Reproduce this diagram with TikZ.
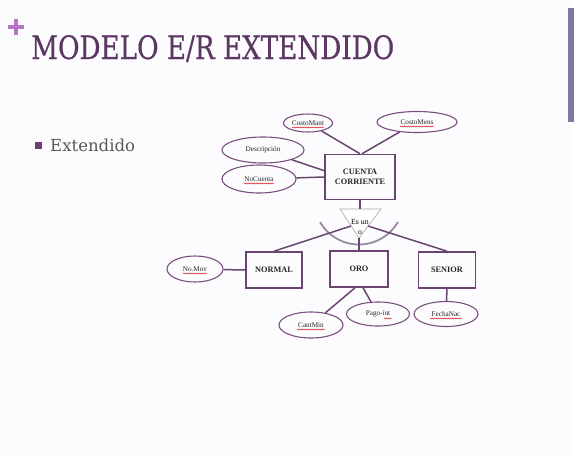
\documentclass[tikz,border=0pt]{standalone}
\usepackage{fontspec}
\setmainfont{Liberation Serif}
\newfontfamily\titlefont[FakeBold=0.6]{DejaVu Serif}
\newfontfamily\bodyfont{DejaVu Serif}
\usetikzlibrary{shapes.geometric,decorations.pathmorphing}
\definecolor{titlepurple}{HTML}{5C3762}
\definecolor{pluspink}{HTML}{B476BE}
\definecolor{barblue}{HTML}{7C7CA3}
\definecolor{bulletpurple}{HTML}{6E3F77}
\definecolor{boxpurple}{HTML}{6A4570}
\definecolor{ellpurple}{HTML}{7A4F80}
\definecolor{arcgray}{HTML}{9A8AA0}
\tikzset{
  entity/.style={draw=boxpurple, line width=1.6pt, minimum height=36pt, inner sep=1pt,
    font=\fontsize{8.3}{10}\selectfont\bfseries, text=black!85, align=center},
  attrib/.style={ellipse, draw=ellpurple, line width=1.1pt, inner sep=0pt,
    font=\fontsize{7.2}{8}\selectfont, text=black!85},
  link/.style={draw=boxpurple, line width=1.5pt},
  squiggle/.style={red!85!black, line width=0.4pt, decorate,
    decoration={snake, segment length=2pt, amplitude=0.5pt}},
}

\begin{document}
\begin{tikzpicture}[x=1pt, y=-1pt]
      \useasboundingbox (0,0) rectangle (574,456);
      \fill [white!97!blue!40!white] (0,0) rectangle (574,456);

      % slide decoration
      \draw [pluspink, line width=4pt] (16,19) -- (16,35);
      \draw [pluspink, line width=4pt] (8,27) -- (24,27);
      \fill [barblue] (568,8) rectangle (574,122);
      \node [anchor=base west, inner sep=0, text=titlepurple] (title) at (31,59)
            {\resizebox{363pt}{24pt}{\titlefont MODELO E/R EXTENDIDO}};
      \fill [bulletpurple] (35,142) rectangle (42,149);
      \node [anchor=base west, inner sep=0, text=black!65] (bullet) at (50,151)
            {\resizebox{85pt}{!}{\bodyfont Extendido}};

      % superclass
      \node [entity, minimum width=70pt, minimum height=45pt] (ccorr) at (360,177) {CUENTA\\CORRIENTE};
      \node [attrib, minimum width=49pt, minimum height=18pt] (cmant) at (308,123) {CostoMant};
      \node [attrib, minimum width=80pt, minimum height=21pt] (cmens) at (417,122) {CostoMens};
      \node [attrib, minimum width=82pt, minimum height=26pt] (desc)  at (263,150) {Descripción};
      \node [attrib, minimum width=74pt, minimum height=28pt] (nocta) at (259,179) {NoCuenta};
      \draw [link] (cmant) -- (ccorr.north);
      \draw [link] (cmens) -- ([xshift=2pt]ccorr.north);
      \draw [link] (desc)  -- (ccorr.170);
      \draw [link] (nocta) -- (ccorr.west);

      % is-a triangle
      \coordinate (isaL)   at (340,209);
      \coordinate (isaR)   at (381,209);
      \coordinate (isaT)   at (359,238);
      \coordinate (isaTop) at (360,209);
      \coordinate (isaNW)  at (351,226);
      \coordinate (isaNE)  at (368,226);
      \draw [arcgray, line width=1.8pt] (320,222) arc [start angle=150, end angle=30, radius=45];
      \draw [fill=white, draw=gray!70, line width=0.6pt] (isaL) -- (isaR) -- (isaT) -- cycle;
      \node [align=center, inner sep=0, font=\fontsize{7.8}{10.5}\selectfont] (isalbl)
            at (360,227) {Es un\\o};
      \draw [link] (ccorr.south) -- (isaTop);

      % subclasses
      \node [entity, minimum width=56pt] (normal) at (274,270) {NORMAL};
      \node [entity, minimum width=58pt] (oro)    at (359,269) {ORO};
      \node [entity, minimum width=57pt] (senior) at (447,270) {SENIOR};
      \draw [link] (isaNW) -- (normal.north);
      \draw [link] (isaT)  -- (oro.north);
      \draw [link] (isaNE) -- (senior.north);

      \node [attrib, minimum width=56pt, minimum height=26pt] (nomov)    at (195,269) {No.Mov};
      \node [attrib, minimum width=64pt, minimum height=26pt] (cantmin)  at (311,325) {CantMin};
      \node [attrib, minimum width=63pt, minimum height=24pt] (pagoint)  at (378,314) {Pago-int};
      \node [attrib, minimum width=64pt, minimum height=25pt] (fechanac) at (446,314) {FechaNac};
      \draw [link] (nomov)    -- (normal.west);
      \draw [link] (cantmin)  -- ([xshift=-4pt]oro.south);
      \draw [link] (pagoint)  -- ([xshift=4pt]oro.south);
      \draw [link] (fechanac) -- (senior.south);

      % spell-check marks
      \draw [squiggle] ([xshift=-16pt,yshift=-4.5pt]cmant.center)    -- ([xshift=16pt,yshift=-4.5pt]cmant.center);
      \draw [squiggle] ([xshift=-17pt,yshift=-4.5pt]cmens.center)    -- ([xshift=17pt,yshift=-4.5pt]cmens.center);
      \draw [squiggle] ([xshift=-15pt,yshift=-4.5pt]nocta.center)    -- ([xshift=15pt,yshift=-4.5pt]nocta.center);
      \draw [squiggle] ([xshift=-12pt,yshift=-4.5pt]nomov.center)    -- ([xshift=12pt,yshift=-4.5pt]nomov.center);
      \draw [squiggle] ([xshift=-14pt,yshift=-4.5pt]cantmin.center)  -- ([xshift=14pt,yshift=-4.5pt]cantmin.center);
      \draw [squiggle] ([xshift=6pt,yshift=-4.5pt]pagoint.center)    -- ([xshift=14pt,yshift=-4.5pt]pagoint.center);
      \draw [squiggle] ([xshift=-16pt,yshift=-4.5pt]fechanac.center) -- ([xshift=16pt,yshift=-4.5pt]fechanac.center);
\end{tikzpicture}
\end{document}
